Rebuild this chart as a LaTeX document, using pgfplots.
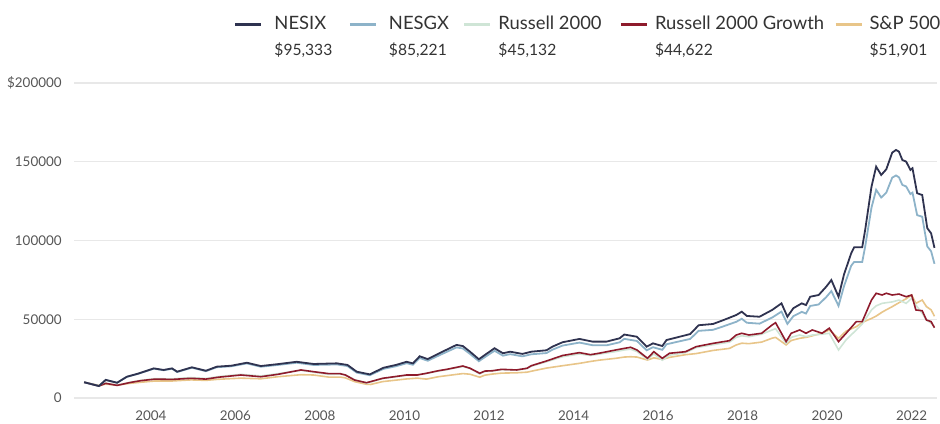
\documentclass[border=0pt]{standalone}
\usepackage{pgfplots}
\pgfplotsset{compat=1.18}
\usepackage{pgfplotstable}
\usepackage{fontspec}
\setmainfont{Lato}
\definecolor{cNESIX}{HTML}{2F3350}
\definecolor{cNESGX}{HTML}{8DB3C9}
\definecolor{cRUS}{HTML}{CFE5D6}
\definecolor{cRUG}{HTML}{8E1B2C}
\definecolor{cSP}{HTML}{E8C589}
\definecolor{ctick}{HTML}{555555}
\definecolor{ctext}{HTML}{333333}

\pgfplotstableread{
x y
2002.42 10000
2002.77 7600
2002.93 11500
2003.20 9700
2003.43 13500
2003.70 15500
2004.07 18800
2004.30 17800
2004.50 18800
2004.62 16700
2004.97 19500
2005.30 17300
2005.56 19900
2005.90 20500
2006.27 22400
2006.60 20300
2007.00 21500
2007.45 23000
2007.85 21600
2008.40 22000
2008.65 21000
2008.87 16700
2009.18 15000
2009.50 19200
2009.80 21000
2010.05 23000
2010.20 22000
2010.36 26500
2010.55 24700
2010.83 28500
2011.23 33700
2011.38 33000
2011.55 29400
2011.76 24600
2011.90 27300
2012.13 31600
2012.33 28400
2012.50 29400
2012.79 28000
2013.00 29400
2013.36 30300
2013.50 32600
2013.74 35400
2014.14 37500
2014.45 35800
2014.78 35800
2015.09 37900
2015.20 40300
2015.50 38900
2015.73 32600
2015.88 34700
2016.10 33000
2016.20 36800
2016.45 38500
2016.76 40600
2016.96 46200
2017.30 47000
2017.55 49500
2017.85 52700
2017.98 54800
2018.10 52100
2018.40 51600
2018.70 55900
2018.92 60100
2019.06 51600
2019.20 57000
2019.40 60100
2019.50 59000
2019.60 64300
2019.80 65400
2019.98 70700
2020.10 74900
2020.27 64300
2020.40 78500
2020.57 91900
2020.64 95700
2020.83 95700
2020.90 106700
2021.05 134200
2021.16 146900
2021.28 141600
2021.40 145200
2021.54 155800
2021.63 157500
2021.70 156400
2021.78 151100
2021.87 150100
2021.97 144800
2022.02 145900
2022.13 130000
2022.25 128900
2022.37 107800
2022.46 104600
2022.54 95333
}\tNESIX

\pgfplotstableread{
x y
2002.42 10000
2002.77 7590
2002.93 11470
2003.20 9660
2003.43 13430
2003.70 15390
2004.07 18630
2004.30 17620
2004.50 18590
2004.62 16500
2004.97 19230
2005.30 17040
2005.56 19560
2005.90 20130
2006.27 21950
2006.60 19850
2007.00 20980
2007.45 22380
2007.85 20970
2008.40 21300
2008.65 20300
2008.87 16130
2009.18 14460
2009.50 18470
2009.80 20180
2010.05 22080
2010.20 21100
2010.36 25390
2010.55 23640
2010.83 27220
2011.23 32120
2011.38 31450
2011.55 27990
2011.76 23370
2011.90 25940
2012.13 29990
2012.33 26890
2012.50 27840
2012.79 26460
2013.00 27750
2013.36 28540
2013.50 30680
2013.74 33280
2014.14 35180
2014.45 33510
2014.78 33440
2015.09 35360
2015.20 37560
2015.50 36210
2015.73 30290
2015.88 32240
2016.10 30590
2016.20 34110
2016.45 35650
2016.76 37510
2016.96 42640
2017.30 43290
2017.55 45540
2017.85 48380
2017.98 50310
2018.10 47780
2018.40 47210
2018.70 51090
2018.92 54870
2019.06 47060
2019.20 51930
2019.40 54690
2019.50 53630
2019.60 58450
2019.80 59380
2019.98 64120
2020.10 67860
2020.27 58500
2020.40 71040
2020.57 84000
2020.64 86400
2020.83 86300
2020.90 96100
2021.05 120900
2021.16 132200
2021.28 127300
2021.40 130400
2021.54 139900
2021.63 141300
2021.70 140100
2021.78 135300
2021.87 134300
2021.97 129500
2022.02 130400
2022.13 116100
2022.25 115100
2022.37 96200
2022.46 93200
2022.54 85221
}\tNESGX

\pgfplotstableread{
x rug rus sp
2002.42 10000 10000 10000
2002.77 7600 7800 8000
2002.93 9300 9400 8800
2003.20 8000 8100 8200
2003.50 9800 9900 9300
2003.76 11000 11200 10000
2004.10 12000 12300 10800
2004.50 11800 12100 10800
2004.95 12500 13000 11500
2005.30 12000 12400 11200
2005.60 13200 13600 11900
2006.13 14600 15000 12600
2006.60 13500 14000 12200
2007.00 15000 15400 13500
2007.55 17800 17600 14800
2007.85 16700 16400 14600
2008.20 15500 15000 13300
2008.47 15500 15200 13300
2008.60 14600 14800 12800
2008.82 11400 11600 10400
2009.10 9700 9500 8700
2009.20 10400 10100 8600
2009.48 12500 12300 10400
2010.05 14600 14400 12100
2010.30 14600 14700 12600
2010.52 15700 15600 12000
2010.80 17300 17100 13500
2011.00 18200 18000 14200
2011.38 20300 20000 15500
2011.55 18900 18700 15100
2011.78 15700 15300 13200
2011.90 17100 16800 14500
2012.08 17300 17200 15200
2012.30 18200 18000 15800
2012.65 17800 17700 16000
2012.90 18900 18700 16400
2013.00 20500 20200 17000
2013.36 23500 23000 19000
2013.74 27000 26200 20500
2014.14 28800 28000 22000
2014.40 27500 27000 23200
2014.60 28400 27800 24000
2015.00 30500 29500 25200
2015.20 31500 30500 26000
2015.35 32200 31000 26200
2015.50 30500 29500 26000
2015.75 25200 24500 24100
2015.90 29400 28000 25500
2016.10 25200 24000 24500
2016.27 28400 27200 25800
2016.65 29400 28800 27500
2016.90 32600 32000 28200
2017.30 34700 33800 30200
2017.69 36400 35500 31500
2017.85 40000 38500 33700
2017.98 41100 39500 34800
2018.15 40000 38900 34500
2018.45 41100 40500 35500
2018.70 46400 43200 38000
2018.78 47800 44000 38500
2019.03 35800 34700 33700
2019.15 41100 38500 36500
2019.35 43200 40000 37900
2019.50 41100 39000 38500
2019.65 43200 40000 39500
2019.88 41100 40500 41100
2020.05 44300 41100 43200
2020.27 35800 30500 37900
2020.45 41100 37000 42500
2020.69 48500 43200 45300
2020.83 48500 47000 48000
2021.05 62200 55900 50500
2021.16 66500 58500 52000
2021.30 65400 60100 54500
2021.40 66500 60500 56000
2021.54 65400 61000 58000
2021.70 66000 62200 60500
2021.87 64300 60100 63000
2022.00 65400 63300 65400
2022.10 55900 59000 60100
2022.25 55400 53800 62200
2022.35 49500 49500 58000
2022.46 48500 47500 56000
2022.54 44622 45132 51901
}\tIDX

\newcommand{\vf}{\fontsize{7.8}{9}\selectfont}

\begin{document}
\begin{tikzpicture}
\begin{axis}[
  name=ax,
  scale only axis,
  width=431.5pt, height=157.5pt,
  xmin=2002.18, xmax=2022.6,
  ymin=0, ymax=200000,
  axis line style={draw=none},
  tick style={draw=none},
  ymajorgrids,
  grid style={color=black!9, line width=0.7pt},
  xtick={2004,2006,2008,2010,2012,2014,2016,2018,2020,2022},
  xticklabels={2004,2006,2008,2010,2012,2014,2016,2018,2020,2022},
  ytick={0,50000,100000,150000,200000},
  yticklabels={0,50000,100000,150000,\$200000},
  scaled y ticks=false,
  /pgf/number format/assume math mode=true,
  tick label style={font=\fontsize{6.7}{8}\selectfont, text=ctick},
  xticklabel style={anchor=base, inner sep=0pt, yshift=-11pt},
  yticklabel style={anchor=east, inner sep=0pt, xshift=-6pt},
  legend columns=5,
  legend cell align=left,
  legend image code/.code={\draw[#1, line width=1.5pt] (0pt,0pt) -- (13pt,0pt); \path[draw=none] (0pt,0pt) -- (17pt,0pt);},
  legend style={draw=none, fill=none, inner sep=0pt, outer sep=0pt,
    at={(0.1854,1.2147)}, anchor=north west,
    column sep=0pt, row sep=4.3pt,
    nodes={inner sep=0pt, text height=7pt, text depth=2pt, text=ctext},
    font=\fontsize{9.2}{11}\selectfont},
]
\addplot[cSP, line width=0.8pt, forget plot] table[x=x, y=sp] {\tIDX};
\addplot[cRUS, line width=0.8pt, forget plot] table[x=x, y=rus] {\tIDX};
\addplot[cRUG, line width=0.8pt, forget plot] table[x=x, y=rug] {\tIDX};
\addplot[cNESGX, line width=0.9pt, forget plot] table[x=x, y=y] {\tNESGX};
\addplot[cNESIX, line width=0.9pt, forget plot] table[x=x, y=y] {\tNESIX};

\addlegendimage{cNESIX}\addlegendentry{\hspace*{2.5pt}\makebox[37pt][l]{NESIX}}
\addlegendimage{cNESGX}\addlegendentry{\hspace*{2.5pt}\makebox[37pt][l]{NESGX}}
\addlegendimage{cRUS}\addlegendentry{\makebox[60.5pt][l]{Russell 2000}}
\addlegendimage{cRUG}\addlegendentry{\makebox[89.5pt][l]{Russell 2000 Growth}}
\addlegendimage{cSP}\addlegendentry{\makebox[33pt][l]{S\&P 500}}
\addlegendimage{empty legend}\addlegendentry{\hspace*{2.5pt}\vf\$95,333}
\addlegendimage{empty legend}\addlegendentry{\hspace*{2.5pt}\vf\$85,221}
\addlegendimage{empty legend}\addlegendentry{\vf\$45,132}
\addlegendimage{empty legend}\addlegendentry{\vf\$44,622}
\addlegendimage{empty legend}\addlegendentry{\vf\$51,901}
\end{axis}
\pgfresetboundingbox
\path[use as bounding box] ([shift={(-37pt,-12.5pt)}]ax.south west) rectangle ([shift={(1.5pt,41.5pt)}]ax.north east);
\end{tikzpicture}
\end{document}
